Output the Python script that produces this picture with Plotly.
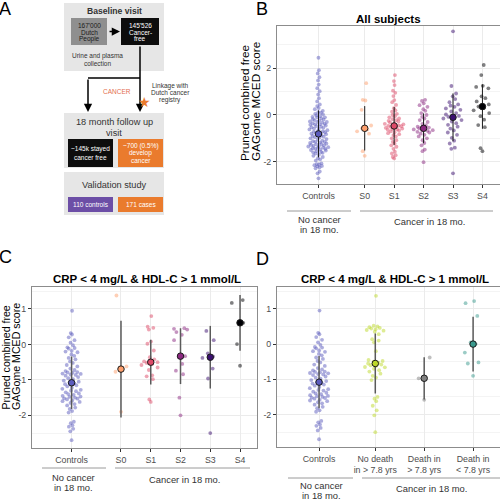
import numpy as np
import plotly.graph_objects as go

# ---------------- data ----------------
b_categories = ["Controls", "S0", "S1", "S2", "S3", "S4"]
b_controls = [
    2.45, 1.92, 1.78, 1.62, 1.48, 1.30, 1.15, 1.02, 0.88, 0.72,
    0.58, 0.45, 0.38, 0.30, 0.25, 0.18, 0.12, 0.10, 0.05, 0.02,
    -0.02, -0.05, -0.08, -0.10, -0.15, -0.18, -0.20, -0.22, -0.25, -0.28,
    -0.30, -0.33, -0.35, -0.38, -0.40, -0.42, -0.45, -0.48, -0.50, -0.52,
    -0.55, -0.58, -0.60, -0.62, -0.65, -0.68, -0.70, -0.72, -0.74, -0.76,
    -0.78, -0.30, -0.40, -0.10, -0.80, -0.82, -0.85, -0.88, -0.90, -0.93,
    -0.96, -1.00, -1.03, -1.06, -1.10, -1.12, -1.15, -1.18, -1.20, -1.22,
    -1.25, -1.28, -1.30, -1.32, -1.35, -1.38, -1.40, -1.42, -1.45, -1.48,
    -1.50, -1.52, -1.55, -1.58, -1.60, -1.62, -1.65, -1.70, -1.75, -1.80,
    -1.85, -1.90, -1.95, -2.07, -2.10, -2.12, -2.15, -2.18, -2.20, -2.24,
    -2.28, -2.42, -2.50, -2.71, -1.40, -1.35, -1.45, -1.25, -1.15, -0.95]
b_s0 = [1.36, 0.65, 0.62, 0.22, -0.45, -0.57, -0.62, -0.70, -0.80, -1.55, -1.75]
b_s1 = [1.71, 1.45, 1.28, 1.04, 0.95, 0.81, 0.64, 0.55, 0.43, 0.29,
        0.20, 0.14, 0.05, 0.00, -0.05, -0.10, -0.15, -0.18, -0.22, -0.25,
        -0.28, -0.32, -0.35, -0.38, -0.40, -0.42, -0.45, -0.47, -0.48, -0.50,
        -0.52, -0.55, -0.58, -0.60, -0.62, -0.63, -0.66, -0.70, -0.74, -0.78,
        -0.82, -0.86, -0.92, -1.00, -1.08, -1.15, -1.22, -1.30, -1.36, -1.45,
        -1.57, -1.65, -1.72, -1.80, -1.86]
b_s2 = [0.65, 0.60, 0.50, 0.42, 0.35, 0.25, 0.18, 0.08, 0.00, -0.08,
        -0.15, -0.22, -0.30, -0.38, -0.45, -0.50, -0.54, -0.57, -0.60, -0.62,
        -0.65, -0.66, -0.68, -0.72, -0.75, -0.80, -0.85, -0.92, -1.00, -1.08,
        -1.20, -1.30, -1.48, -1.55, -2.02]
b_s3 = [3.58, 1.24, 0.92, 0.80, 0.68, 0.55, 0.45, 0.40, 0.35, 0.28,
        0.22, 0.15, 0.08, 0.02, -0.04, -0.08, -0.10, -0.15, -0.22, -0.28,
        -0.35, -0.42, -0.50, -0.58, -0.66, -0.75, -0.85, -0.98, -1.10, -1.22,
        -1.40, -1.45, -2.50]
b_s4 = [2.14, 1.71, 1.25, 1.20, 1.14, 0.80, 0.72, 0.58, 0.45, 0.36,
        0.30, 0.20, 0.08, -0.05, -0.20, -0.43, -0.52, -1.42, -1.55]

c_categories = ["Controls", "S0", "S1", "S2", "S3", "S4"]
cd_controls = [
    0.95, 0.32, 0.28, 0.20, 0.12, 0.05, -0.02, -0.08, -0.12, -0.18,
    -0.22, -0.28, -0.32, -0.38, -0.42, -0.48, -0.52, -0.58, -0.62, -0.68,
    -0.72, -0.75, -0.78, -0.80, -0.82, -0.85, -0.88, -0.92, -0.95, -0.98,
    -1.02, -1.05, -1.08, -1.10, -1.12, -1.15, -1.18, -1.22, -1.25, -1.28,
    -1.32, -1.35, -1.38, -1.42, -1.45, -1.48, -1.50, -1.52, -1.55, -1.58,
    -1.62, -1.65, -1.68, -1.72, -1.78, -1.82, -1.88, -1.92, -2.18, -2.22,
    -2.28, -2.32, -2.38, -2.45, -2.70, -0.10, -0.20, -0.79, -0.83, -0.86,
    -1.40, -1.47, -1.53, -1.60, -1.30]
c_s0 = [1.38, -0.62, -0.77, -1.90]
c_s1 = [0.80, 0.50, 0.47, 0.42, 0.08, 0.02, -0.17, -0.36, -0.42, -0.48,
        -0.50, -0.52, -0.55, -0.58, -0.65, -0.72, -0.87, -0.90, -0.98, -1.55, -1.62]
c_s2 = [0.46, 0.44, 0.42, 0.35, 0.27, 0.12, -0.33, -0.36, -0.55, -0.74, -0.84, -1.50, -2.00]
c_s3 = [0.38, 0.12, -0.25, -0.34, -0.38, -0.68, -0.96, -2.50]
c_s4 = [1.25, 1.17, 0.61, 0.01, -0.60]

d_categories = ["Controls", "No death<br>in > 7.8 yrs", "Death in<br>> 7.8 yrs", "Death in<br>< 7.8 yrs"]
d_no_death = [1.37, 0.52, 0.50, 0.48, 0.46, 0.44, 0.42, 0.40, 0.38, 0.35,
              0.28, 0.14, 0.10, 0.05, -0.20, -0.45, -0.48, -0.50, -0.53, -0.55,
              -0.58, -0.60, -0.62, -0.65, -0.66, -0.70, -0.74, -0.78, -0.84, -0.90,
              -0.95, -1.02, -1.50, -1.55, -1.62, -1.75, -1.88, -2.02, -2.50]
d_death_late = [-0.38, -0.97, -1.58]
d_death_early = [1.22, 1.16, 0.80, 0.05, 0.00, -0.24, -0.52, -0.55, -0.90]

y_title_lines = ["Pruned combined free", "GAGome MCED score"]
group_labels = ["No cancer", "in 18 mo.", "Cancer in 18 mo."]

# ---------------- styling ----------------
FONT = "Liberation Sans, Arial, Helvetica, sans-serif"
CTRL = "#5c5cbe"
MAGMA = ["#FE9F6D", "#DE4968", "#8C2981", "#3B0F70", "#000004"]
D_COLS = [CTRL, "#bdd92a", "#808080", "#3a9a8e"]
W = H = 500


def hx(p):
    return p / W


def vy(p):
    return 1 - p / H


def rgba(hexc, a):
    h = hexc.lstrip("#")
    return "rgba(%d,%d,%d,%s)" % (int(h[0:2], 16), int(h[2:4], 16), int(h[4:6], 16), a)


def van_der_corput(n):
    out = []
    for i in range(1, n + 1):
        v, denom, k = 0.0, 1.0, i
        while k:
            denom *= 2.0
            v += (k % 2) / denom
            k //= 2
        out.append(v)
    return np.array(out)


def quasirandom(vals, halfwidth):
    """Quasirandom (vipor-like) offsets in pixels, derived from the values."""
    v = np.asarray(vals, float)
    n = len(v)
    if n < 2:
        return np.zeros(n)
    sd = v.std(ddof=1)
    iqr = np.subtract(*np.percentile(v, [75, 25]))
    lo = min(sd, iqr / 1.34) if iqr > 0 else sd
    bw = 0.9 * lo * n ** (-0.2) * 0.5
    dens = np.exp(-0.5 * ((v[:, None] - v[None, :]) / bw) ** 2).sum(1)
    dens = dens / dens.max()
    ranks = np.argsort(np.argsort(v, kind="stable"), kind="stable")
    seq = van_der_corput(n)[ranks]
    return (seq - 0.5) * 2 * dens * halfwidth


fig = go.Figure()

axis_common = dict(showline=True, mirror=True, linecolor="#8c8c8c", linewidth=1,
                   ticks="outside", ticklen=3, tickcolor="#333333", tickwidth=1,
                   showgrid=True, gridcolor="#ebebeb", gridwidth=1, zeroline=False,
                   tickfont=dict(family=FONT, size=8.8, color="#4d4d4d"), fixedrange=True)


def add_panel(idx, series, colors, cats, centers, xpx, ypx, xr, yr, yticks, yminor,
              bar_col, bar_w, halfwidth):
    xa = "x" if idx == 1 else "x%d" % idx
    ya = "y" if idx == 1 else "y%d" % idx
    ppu_x = (xpx[1] - xpx[0]) / (xr[1] - xr[0])
    for vals, col, c in zip(series, colors, centers):
        v = np.asarray(vals, float)
        off = quasirandom(v, halfwidth) / ppu_x
        fig.add_trace(go.Scatter(x=c + off, y=v, mode="markers", xaxis=xa, yaxis=ya,
                                 marker=dict(size=3.8, color=rgba(col, 0.5), line=dict(width=0)),
                                 showlegend=False, hoverinfo="y"))
    for vals, col, c in zip(series, colors, centers):
        v = np.asarray(vals, float)
        med = float(np.median(v))
        sd = float(np.std(v, ddof=1))
        fig.add_trace(go.Scatter(x=[c, c], y=[med - sd, med + sd], mode="lines",
                                 xaxis=xa, yaxis=ya, line=dict(color=bar_col, width=bar_w),
                                 showlegend=False, hoverinfo="skip"))
        fig.add_trace(go.Scatter(x=[c], y=[med], mode="markers", xaxis=xa, yaxis=ya,
                                 marker=dict(size=6.5, color=col, line=dict(color="#1a1a1a", width=1)),
                                 showlegend=False, hoverinfo="y"))
    key = "" if idx == 1 else str(idx)
    fig.update_layout(**{
        "xaxis" + key: dict(domain=[hx(xpx[0]), hx(xpx[1])], range=list(xr), tickmode="array",
                            tickvals=list(centers), ticktext=cats, anchor=ya, **axis_common),
        "yaxis" + key: dict(domain=[vy(ypx[1]), vy(ypx[0])], range=list(yr), tickmode="array",
                            tickvals=yticks, ticktext=[("%g" % t) for t in yticks], anchor=xa,
                            minor=dict(tickmode="array", tickvals=yminor, showgrid=True,
                                       gridcolor="#f4f4f4", gridwidth=0.6, ticks=""),
                            **axis_common),
    })


# Panel B
add_panel(1, [b_controls, b_s0, b_s1, b_s2, b_s3, b_s4], [CTRL] + MAGMA, b_categories,
          [0, 1.57, 2.57, 3.57, 4.57, 5.57], (277, 499.5), (26, 184), (-1.41, 6.15),
          (-2.955, 3.81), [-2, 0, 2], [-3, -1, 1, 3], "#1a1a1a", 1, 10.5)
# Panel C
add_panel(2, [cd_controls, c_s0, c_s1, c_s2, c_s3, c_s4], [CTRL] + MAGMA, c_categories,
          [0, 1.66, 2.66, 3.66, 4.66, 5.66], (32, 257), (287, 448), (-1.33, 6.23),
          (-2.92, 1.62), [-2, -1, 0, 1], [-2.5, -1.5, -0.5, 0.5, 1.5], "#5a5a5a", 1.5, 11)
# Panel D
add_panel(3, [cd_controls, d_no_death, d_death_late, d_death_early], D_COLS, d_categories,
          [0, 1.15, 2.15, 3.15], (277, 499.5), (287, 447), (-0.86, 3.69),
          (-2.92, 1.62), [-2, -1, 0, 1], [-2.5, -1.5, -0.5, 0.5, 1.5], "#5a5a5a", 1.5, 11)

ann = []
shapes = []


def text(t, x, y, size, color="#333333", bold=False, angle=0, xanchor="center", yanchor="middle"):
    ann.append(dict(text=("<b>%s</b>" % t) if bold else t, x=hx(x), y=vy(y), xref="paper",
                    yref="paper", showarrow=False, textangle=angle, xanchor=xanchor,
                    yanchor=yanchor, font=dict(family=FONT, size=size, color=color)))


def rect(x0, y0, x1, y1, fill):
    shapes.append(dict(type="rect", xref="paper", yref="paper", x0=hx(x0), x1=hx(x1),
                       y0=vy(y1), y1=vy(y0), fillcolor=fill, line=dict(width=0), layer="below"))


def line(x0, y0, x1, y1, color="#999999", width=1):
    shapes.append(dict(type="line", xref="paper", yref="paper", x0=hx(x0), x1=hx(x1),
                       y0=vy(y0), y1=vy(y1), line=dict(color=color, width=width)))


def arrow(x, y, ax, ay):
    ann.append(dict(text="", x=hx(x), y=vy(y), xref="paper", yref="paper", showarrow=True,
                    ax=ax, ay=ay, arrowhead=2, arrowsize=1.1, arrowwidth=1.5, arrowcolor="black"))


# ---------------- Panel A (flow chart) ----------------
rect(64, 3, 164, 71, "#e6e6e6")
rect(71, 18, 107, 45, "#8f8f8f")
rect(121, 18, 159, 45, "#0d0d0d")
rect(64, 113, 164, 168, "#e6e6e6")
rect(68, 139, 113, 167, "#0d0d0d")
rect(118, 139, 163, 167, "#ea7b2d")
rect(64, 172, 164, 215, "#e6e6e6")
rect(68, 197, 113, 212, "#6c4ea6")
rect(118, 197, 163, 212, "#ea7b2d")
line(88, 78, 140, 78, "black", 1.5)
arrow(120, 31.5, -12, 0)
arrow(140, 112, 0, -67)
arrow(88, 112, 0, -34)

text("Baseline visit", 114, 11, 8.6, "#333333", bold=True)
for t, yy in zip(["167'000", "Dutch", "People"], [25, 32, 39]):
    text(t, 89, yy, 6.5, "#1a1a1a")
for t, yy in zip(["145'526", "Cancer-", "free"], [25, 32, 39]):
    text(t, 140, yy, 6.5, "white")
for t, yy in zip(["Urine and plasma", "collection"], [56, 63]):
    text(t, 97, yy, 6.5, "#333333")
ann.append(dict(text="\u2605", x=hx(136), y=vy(92), xref="paper", yref="paper",
                showarrow=False, font=dict(family="DejaVu Sans", size=14, color="#ea7b2d")))
text("CANCER", 117, 92, 6.5, "#e36f4f")
for t, yy in zip(["Linkage with", "Dutch cancer", "registry"], [86, 93, 100]):
    text(t, 170, yy, 6.5, "#333333")
text("18 month follow up", 114, 122, 9.2, "#333333")
text("visit", 114, 132.5, 9.2, "#333333")
for t, yy in zip(["~145k stayed", "cancer free"], [149, 157]):
    text(t, 90.5, yy, 6.5, "white")
for t, yy in zip(["~700 (0.5%)", "develop", "cancer"], [146, 153, 160]):
    text(t, 140.5, yy, 6.5, "white")
text("Validation study", 114, 185, 9.2, "#333333")
text("110 controls", 90.5, 204.5, 6.5, "white")
text("171 cases", 140.5, 204.5, 6.5, "white")

# ---------------- panel letters / titles ----------------
text("A", 5, 9, 18, "black")
text("B", 262, 9, 18, "black")
text("C", 5, 257, 18, "black")
text("D", 262, 259, 18, "black")
text("All subjects", 388, 19, 11.5, "black", bold=True)
text("CRP < 4 mg/L & HDL-C > 1 mmol/L", 147, 279, 11.5, "black", bold=True)
text("CRP < 4 mg/L & HDL-C > 1 mmol/L", 395, 278.5, 11.5, "black", bold=True)

# y-axis titles (bottom aligned lines)
text(y_title_lines[0], 244.5, 163, 11.8, "black", angle=-90, yanchor="bottom")
text(y_title_lines[1], 256, 163, 11.8, "black", angle=-90, yanchor="bottom")
text(y_title_lines[0], 5.5, 412, 10.6, "black", angle=-90, yanchor="bottom")
text(y_title_lines[1], 15.5, 412, 10.6, "black", angle=-90, yanchor="bottom")

# group brackets under the x axes
for (ly, nc0, nc1, ca0, ca1, ncx, ny1, ny2, cax, cay) in [
        (211, 287, 351, 360, 493, 319, 220, 230, 429, 222),
        (468, 42, 106, 115, 250, 73, 477, 487, 184, 479),
        (478, 288, 353, 362, 500, 321, 485, 495, 431, 488)]:
    line(nc0, ly, nc1, ly, "#9a9a9a", 1)
    line(ca0, ly, ca1, ly, "#9a9a9a", 1)
    text(group_labels[0], ncx, ny1, 9.4, "#333333")
    text(group_labels[1], ncx, ny2, 9.4, "#333333")
    text(group_labels[2], cax, cay, 9.4, "#333333")

fig.update_layout(width=W, height=H, margin=dict(l=0, r=0, t=0, b=0),
                  paper_bgcolor="white", plot_bgcolor="white", showlegend=False,
                  annotations=ann, shapes=shapes, font=dict(family=FONT))

fig.write_html("out.html", config={"displayModeBar": False},
               post_script="document.body.style.margin='0px';document.body.style.padding='0px';")
